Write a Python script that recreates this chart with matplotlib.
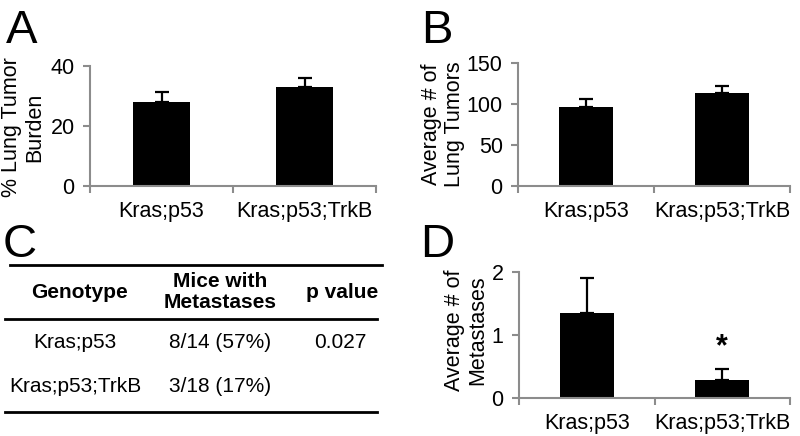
import matplotlib
matplotlib.use("Agg")
import matplotlib.pyplot as plt

plt.rcParams['font.family'] = ['Liberation Sans', 'DejaVu Sans']

genotypes = ['Kras;p53', 'Kras;p53;TrkB']

burden = [28.0, 33.1]
burden_err = [3.2, 2.9]

tumors = [96.3, 113.4]
tumors_err = [9.7, 8.6]

mets = [1.35, 0.28]
mets_err = [0.55, 0.18]
mets_marks = ['', '*']

table_cols = ['Genotype', 'Mice with\nMetastases', 'p value']
table_rows = [['Kras;p53', '8/14 (57%)', '0.027'],
              ['Kras;p53;TrkB', '3/18 (17%)', '']]

W, H = 800, 436
FS = 15.5
fig = plt.figure(figsize=(8, 4.36), dpi=100)


def px_rect(x0, y0, x1, y1):
    # pixel box (top-left origin) -> figure fraction
    return [x0 / W, 1 - y1 / H, (x1 - x0) / W, (y1 - y0) / H]


def bar_panel(rect, vals, errs, ymax, yticks, ylabel, lab_xy):
    ax = fig.add_axes(rect)
    x = [0.5 + i for i in range(len(vals))]
    ax.bar(x, vals, width=0.4, color='black', zorder=2)
    ax.errorbar(x, vals, yerr=[[0] * len(errs), errs], fmt='none',
                ecolor='black', elinewidth=1.6, capsize=5, capthick=1.6, zorder=1)
    ax.set_xlim(0, len(vals))
    ax.set_ylim(0, ymax)
    ax.set_yticks(yticks)
    ax.set_xticks(range(len(vals) + 1))
    ax.set_xticklabels([])
    ax.set_xticks(x, minor=True)
    ax.set_xticklabels(genotypes, minor=True)
    for s in ['top', 'right']:
        ax.spines[s].set_visible(False)
    for s in ['left', 'bottom']:
        ax.spines[s].set_color('#8c8c8c')
        ax.spines[s].set_linewidth(1.5)
    ax.tick_params(axis='both', which='major', color='#8c8c8c', width=1.5,
                   length=5, labelsize=FS, pad=6)
    ax.tick_params(axis='x', which='minor', length=0, labelsize=FS, pad=11)
    fig.text(lab_xy[0] / W, 1 - lab_xy[1] / H, ylabel, rotation=90,
             ha='center', va='center', fontsize=FS, linespacing=1.1,
             multialignment='center')
    return ax, x


# panel letters
for letter, (lx, ly) in zip('ABCD', [(6, 43), (421, 43), (3, 257), (420, 257)]):
    fig.text(lx / W, 1 - ly / H, letter, fontsize=34, ha='left', va='baseline')

bar_panel(px_rect(90, 66, 376, 186), burden, burden_err, 40, [0, 20, 40],
          '% Lung Tumor\nBurden', (23, 127))
bar_panel(px_rect(518, 63, 790, 186), tumors, tumors_err, 150, [0, 50, 100, 150],
          'Average # of\nLung Tumors', (443, 124))
axd, xd = bar_panel(px_rect(519, 272, 790, 398), mets, mets_err, 2, [0, 1, 2],
                    'Average # of\nMetastases', (466, 330))
for xi, v, e, m in zip(xd, mets, mets_err, mets_marks):
    if m:
        axd.text(xi, v + e + 0.1, m, ha='center', va='bottom',
                 fontsize=22, fontweight='bold')

# panel C table
axt = fig.add_axes([0, 0, 0.5, 216 / H])
axt.set_xlim(0, 400)
axt.set_ylim(436, 220)
axt.axis('off')
axt.plot([10, 382], [265, 265], color='black', lw=2)
axt.plot([5, 377], [319, 319], color='black', lw=2)
axt.plot([5, 377], [412, 412], color='black', lw=2)
col_x = [80, 220, 342]
for cx, c in zip(col_x, table_cols):
    axt.text(cx, 292, c, ha='center', va='center', fontsize=15,
             fontweight='bold', linespacing=1.1)
row_x = [75, 220, 340]
for ry, row in zip([343, 387], table_rows):
    for cx, t in zip(row_x, row):
        axt.text(cx, ry, t, ha='center', va='center', fontsize=15)

fig.savefig('out.png', dpi=100)
